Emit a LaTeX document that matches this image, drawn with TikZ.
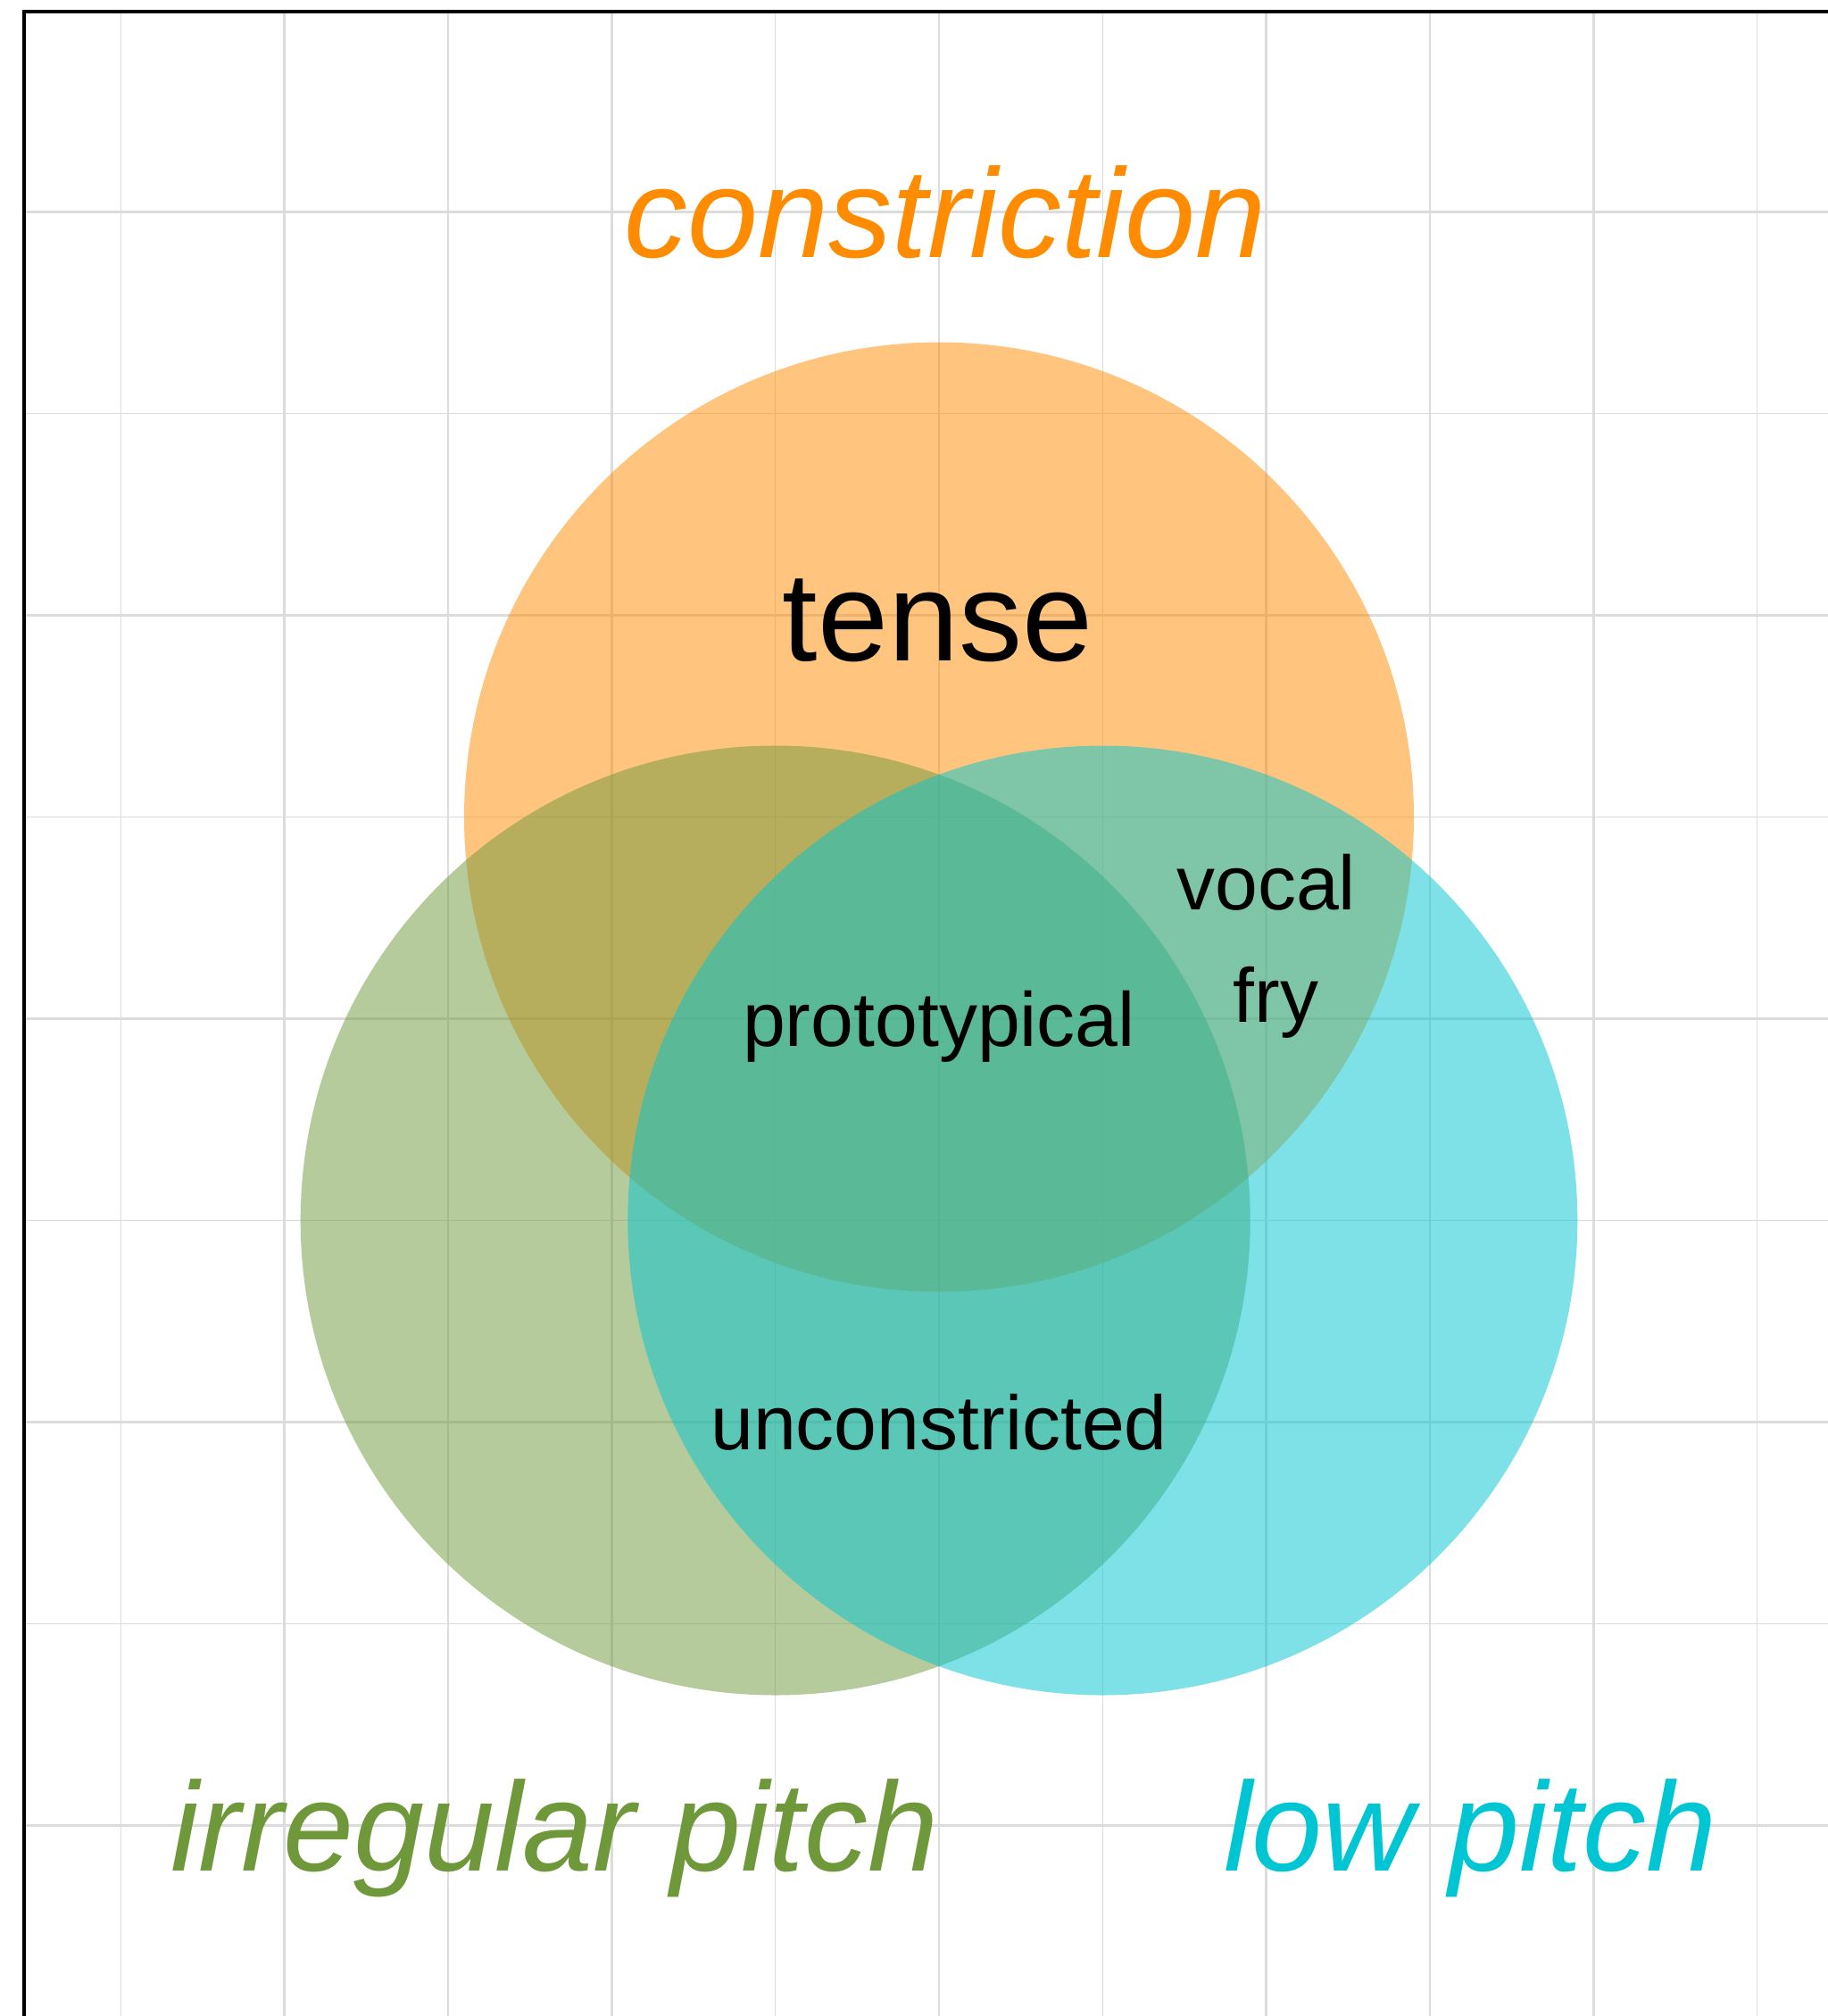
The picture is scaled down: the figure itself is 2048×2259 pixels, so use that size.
\documentclass[tikz,border=0pt]{standalone}
\usepackage{fontspec}
\setmainfont{Liberation Sans}
\definecolor{corange}{RGB}{255,140,0}
\definecolor{cgreen}{RGB}{111,152,59}
\definecolor{ccyan}{RGB}{0,197,210}
\definecolor{gridgrey}{RGB}{220,220,220}
\begin{document}
\begin{tikzpicture}[x=0.5pt,y=-0.5pt,
  majorline/.style={draw=gridgrey, line width=1.35pt},
  minorline/.style={draw=gridgrey, line width=0.7pt},
  venn/.style={fill opacity=0.5},
  bigtext/.style={font=\fontsize{71}{80}\selectfont, inner sep=0pt, anchor=base},
  bigital/.style={font=\fontsize{71}{80}\selectfont\itshape, inner sep=0pt, anchor=base},
  smalltext/.style={font=\fontsize{43}{50}\selectfont, inner sep=0pt, anchor=base}]
\useasboundingbox (0,0) rectangle (2048,2259);
\clip (0,0) rectangle (2048,2259);
\fill[white] (0,0) rectangle (2048,2259);
% grid
\foreach \k in {0,2,4,6,8,10} \draw[minorline] ({135.5+183.3*\k},13) -- ({135.5+183.3*\k},2259);
\foreach \k in {1,3,5,7,9} \draw[majorline] ({135.5+183.3*\k},13) -- ({135.5+183.3*\k},2259);
\foreach \k in {1,3,5,7} \draw[minorline] (27,{237.5+226*\k}) -- (2048,{237.5+226*\k});
\foreach \k in {0,2,4,6,8} \draw[majorline] (27,{237.5+226*\k}) -- (2048,{237.5+226*\k});
% circles
\fill[venn, corange] (1052,915.5) circle[radius=266pt];
\fill[venn, cgreen] (868.7,1367.5) circle[radius=266pt];
\fill[venn, ccyan] (1235.3,1367.5) circle[radius=266pt];
% panel border
\draw[line width=2pt] (27,13) rectangle (2300,2500);
% labels
\node[bigital, text=corange] (constriction) at (1059,288) {constriction};
\node[bigtext] (tense) at (1050.5,740) {tense};
\node[smalltext] (proto) at (1052,1172) {prototypical};
\node[smalltext] (vocal) at (1418.6,1019) {vocal};
\node[smalltext] (fry) at (1429.7,1145) {fry};
\node[smalltext] (uncon) at (1052,1624) {unconstricted};
\node[bigital, text=cgreen, anchor=base west] (irregular) at (191,2096) {irregular pitch};
\node[bigital, text=ccyan, anchor=base east] (lowpitch) at (1924,2096) {low pitch};
\end{tikzpicture}
\end{document}
